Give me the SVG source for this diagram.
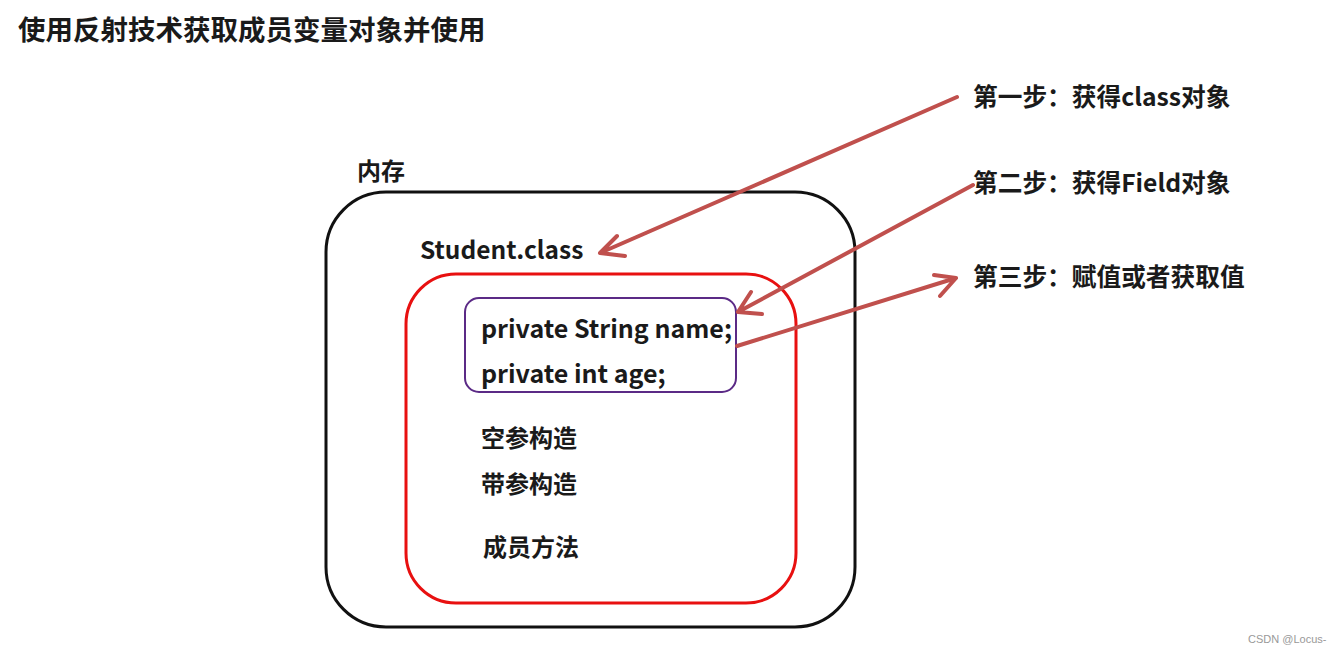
<svg xmlns="http://www.w3.org/2000/svg" width="1341" height="655" viewBox="0 0 1341 655">
<style>
.t{font-family:"Noto Sans CJK SC","Open Sans",sans-serif;font-weight:bold;fill:#1a1a1a}
.c{stroke:#c0504d;stroke-width:4;fill:none;stroke-linecap:round}
</style>
<rect width="1341" height="655" fill="#fff"/>
<text class="t" x="18" y="40" font-size="27.5">使用反射技术获取成员变量对象并使用</text>
<g id="memory"><text class="t" x="357" y="180" font-size="24">内存</text>
<rect x="326" y="192" width="529" height="435" rx="60" fill="none" stroke="#111" stroke-width="3"/>
<text class="t" x="420" y="259" font-size="24.5">Student.class</text></g>
<g id="class"><rect x="406" y="274" width="390" height="329" rx="50" fill="none" stroke="#e81010" stroke-width="3"/>
<text class="t" x="481" y="447" font-size="24">空参构造</text>
<text class="t" x="481" y="493" font-size="24">带参构造</text>
<text class="t" x="483" y="556" font-size="24">成员方法</text></g>
<g id="fields"><rect x="465" y="298" width="271" height="94" rx="14" fill="none" stroke="#5b2a86" stroke-width="2"/>
<text class="t" x="481" y="338" font-size="25">private String name;</text>
<text class="t" x="481" y="383" font-size="25">private int age;</text></g>
<g id="steps"><text class="t" x="973" y="106" font-size="24.7">第一步：获得class对象</text>
<text class="t" x="973" y="192" font-size="24.7">第二步：获得Field对象</text>
<text class="t" x="973" y="286" font-size="24.7">第三步：赋值或者获取值</text></g>
<g id="connectors">
<path class="c" d="M957,97 L600,253 M600,253 L625,256 M600,253 L617,236"/>
<path class="c" d="M973,185 L738,312 M738,312 L762,314 M738,312 L751,292"/>
<path class="c" d="M737,346 L956,278 M956,278 L940,296 M956,278 L934,275"/>
</g>
<text x="1248" y="643" font-family="Liberation Sans,sans-serif" font-size="11" fill="#999">CSDN @Locus-</text>
</svg>
